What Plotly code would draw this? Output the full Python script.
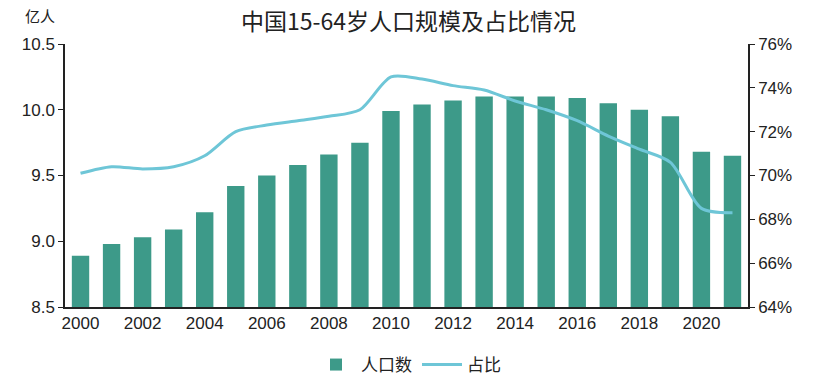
import plotly.graph_objects as go

years = list(range(2000, 2022))
population = [8.89, 8.98, 9.03, 9.09, 9.22, 9.42, 9.50, 9.58, 9.66, 9.75, 9.99,
              10.04, 10.07, 10.10, 10.10, 10.10, 10.09, 10.05, 10.00, 9.95, 9.68, 9.65]
share = [70.1, 70.4, 70.3, 70.4, 70.9, 72.0, 72.3, 72.5, 72.7, 73.0, 74.5,
         74.4, 74.1, 73.9, 73.4, 73.0, 72.5, 71.8, 71.2, 70.6, 68.5, 68.3]
xticks = list(range(2000, 2021, 2))

font_num = "Liberation Sans, Arial, sans-serif"
font_cjk = "Noto Sans CJK SC, sans-serif"

fig = go.Figure()
fig.add_trace(go.Bar(x=years, y=population, name="人口数", marker_color="#3d9a89",
                     marker_line_width=0, yaxis="y"))
fig.add_trace(go.Scatter(x=years, y=share, name="占比", mode="lines",
                         line=dict(color="#6ec6d7", width=3, shape="spline", smoothing=0.8),
                         yaxis="y2"))

fig.update_layout(
    width=817, height=389,
    margin=dict(l=65, r=69, t=44, b=82),
    plot_bgcolor="white", paper_bgcolor="white",
    bargap=0.44,
    title=dict(text="中国15-64岁人口规模及占比情况", x=0.5, xanchor="center",
               y=1 - 22 / 389, yanchor="middle", yref="container",
               font=dict(family=font_cjk, size=23, color="#222")),
    xaxis=dict(range=[1999.5, 2021.5], tickvals=xticks, showgrid=False, automargin=False,
               showline=True, linecolor="#222", linewidth=1.5, ticks="",
               tickfont=dict(family=font_num, size=17, color="#222")),
    yaxis=dict(range=[8.5, 10.5], dtick=0.5, tickformat=".1f", showgrid=False,
               automargin=False,
               showline=True, linecolor="#222", linewidth=1.5, ticks="outside",
               ticklen=5, tickcolor="#222", zeroline=False,
               tickfont=dict(family=font_num, size=17, color="#222")),
    yaxis2=dict(range=[64, 76], dtick=2, ticksuffix="%", overlaying="y", side="right",
                automargin=False,
                showgrid=False, showline=True, linecolor="#222", linewidth=1.5,
                ticks="outside", ticklen=5, tickcolor="#222", zeroline=False,
                tickfont=dict(family=font_num, size=17, color="#222")),
    legend=dict(orientation="h", x=0.5, xanchor="center", xref="container",
                y=1 - 365 / 389, yanchor="middle", yref="container",
                font=dict(family=font_cjk, size=17, color="#222"), itemwidth=40),
    showlegend=True,
)
fig.add_annotation(text="亿人", xref="paper", yref="paper", x=-0.037, y=1.11,
                   yanchor="middle", xanchor="center",
                   showarrow=False, font=dict(family=font_cjk, size=15, color="#222"))

fig.write_html("out.html", config={"displayModeBar": False},
               post_script="document.body.style.margin='0';document.body.style.overflow='hidden';")
